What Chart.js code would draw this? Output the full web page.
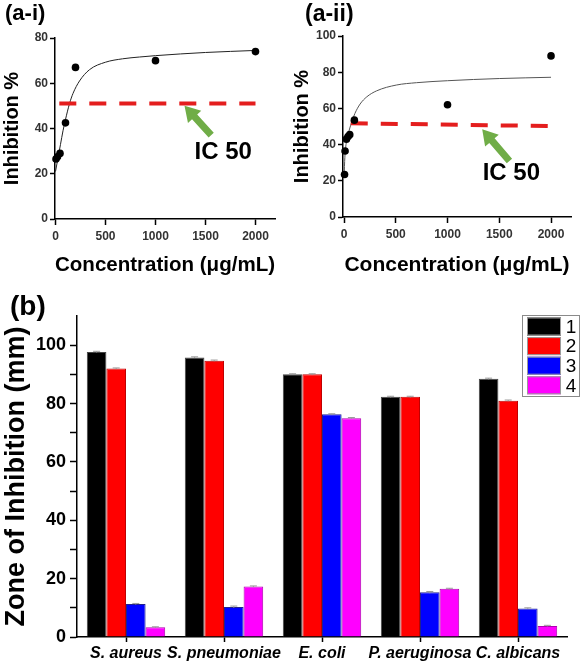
<!DOCTYPE html>
<html>
<head>
<meta charset="utf-8">
<script src="https://cdn.jsdelivr.net/npm/chart.js@4.4.0/dist/chart.umd.min.js"></script>
<style>
  html, body { margin: 0; padding: 0; background: #fff; }
  #wrap { position: relative; width: 580px; height: 665px; overflow: hidden; }
  canvas { position: absolute; }
  .tag { position: absolute; font-family: "Liberation Sans", Arial, sans-serif; font-weight: bold; line-height: 1; color: #000; }
</style>
</head>
<body>
<div id="wrap">
  <canvas id="c1" width="290" height="290" style="left:0;top:0"></canvas>
  <canvas id="c2" width="290" height="290" style="left:290px;top:0"></canvas>
  <canvas id="c3" width="580" height="375" style="left:0;top:290px"></canvas>
  <div class="tag" style="left:5px;top:2px;font-size:22px">(a-i)</div>
  <div class="tag" style="left:305px;top:2px;font-size:23px">(a-ii)</div>
  <div class="tag" style="left:10px;top:292px;font-size:28px">(b)</div>
</div>
<script>
const pts1X = [5, 20, 45, 100, 200, 1000, 2000]
const pts1Y = [26.5, 27.5, 29, 42.5, 67, 70, 74]
const fit1X = [0, 25, 50, 75, 100, 140, 175, 240, 340, 500, 670, 840, 1000, 1500, 2000]
const fit1Y = [21, 27, 33, 39, 44, 51, 55.5, 61, 66, 69.3, 70.8, 71.6, 72.2, 73.6, 74.5]
const ic1X = [38, 2000]
const ic1Y = [51, 51]

// (a-ii)
const pts2X = [5, 10, 23, 39, 55, 100, 1000, 2000]
const pts2Y = [23.5, 36.5, 43, 44.5, 45.5, 53.5, 62, 89]
const fit2X = [0, 8, 15, 30, 50, 75, 105, 155, 220, 315, 505, 700, 1000, 1500, 2000]
const fit2Y = [22, 33, 38, 44, 48, 52.6, 57.2, 62.4, 66.4, 69.7, 72.9, 74.2, 75.3, 76.5, 77.2]
const ic2X = [65, 2030]
const ic2Y = [51.8, 50.2]

const concTicks = [0, 500, 1000, 1500, 2000]
const inhTicks1 = [0, 20, 40, 60, 80]
const inhTicks2 = [0, 20, 40, 60, 80, 100]

// (b) zone of inhibition
const microbes = ['S. aureus', 'S. pneumoniae', 'E. coli', 'P. aeruginosa', 'C. albicans']
const seriesNames = ['1', '2', '3', '4']
const zone1 = [97.7, 95.8, 90.0, 82.3, 88.5]
const zone2 = [92.0, 94.7, 90.0, 82.3, 81.0]
const zone3 = [11.3, 10.3, 76.3, 15.3, 9.8]
const zone4 = [3.3, 17.3, 75.0, 16.5, 3.8]
const err1 = [0.2, 0.2, 0.2, 0.2, 0.2]
const err2 = [0.2, 0.2, 0.2, 0.2, 0.2]
const err3 = [0.2, 0.3, 0.2, 0.3, 0.2]
const err4 = [0.2, 0.2, 0.2, 0.2, 0.2]
const zoneTicks = [0, 10, 20, 30, 40, 50, 60, 70, 80, 90, 100]

const FONT = '"Liberation Sans", Arial, sans-serif'
const toXY = (xs, ys) => xs.map((x, i) => ({ x, y: ys[i] }))

// green arrow + "IC 50" label, placed in data units
const icArrow = {
  id: 'icArrow',
  afterDatasetsDraw(chart, args, o) {
    const { ctx, scales: { x, y } } = chart
    const sx = x.getPixelForValue(o.tail[0]), sy = y.getPixelForValue(o.tail[1])
    const tx = x.getPixelForValue(o.tip[0]), ty = y.getPixelForValue(o.tip[1])
    const len = Math.hypot(tx - sx, ty - sy)
    const hl = 15, hw = 9, sw = 3.5
    ctx.save()
    ctx.translate(sx, sy)
    ctx.rotate(Math.atan2(ty - sy, tx - sx))
    ctx.beginPath()
    ctx.moveTo(0, -sw); ctx.lineTo(len - hl, -sw); ctx.lineTo(len - hl, -hw)
    ctx.lineTo(len, 0); ctx.lineTo(len - hl, hw); ctx.lineTo(len - hl, sw); ctx.lineTo(0, sw)
    ctx.closePath()
    ctx.fillStyle = '#70ad47'
    ctx.fill()
    ctx.restore()
    ctx.save()
    ctx.font = 'bold 24px ' + FONT
    ctx.fillStyle = '#000'
    ctx.textAlign = 'center'
    ctx.textBaseline = 'middle'
    ctx.fillText('IC 50', x.getPixelForValue(o.text[0]), y.getPixelForValue(o.text[1]))
    ctx.restore()
  }
}

function makeIcChart(id, c) {
  return new Chart(document.getElementById(id), {
    type: 'scatter',
    data: {
      datasets: [
        { data: toXY(c.px, c.py), pointRadius: 3.8, pointBackgroundColor: '#000', pointBorderWidth: 0, showLine: false, clip: false },
        { data: toXY(c.icx, c.icy), showLine: true, pointRadius: 0, borderColor: '#e41e1e', borderWidth: 4, borderDash: [17, 13], clip: false },
        { data: toXY(c.fx, c.fy), showLine: true, pointRadius: 0, borderColor: c.fitColor, borderWidth: 1, cubicInterpolationMode: 'monotone', clip: false }
      ]
    },
    options: {
      responsive: false,
      animation: false,
      devicePixelRatio: 1,
      layout: { padding: { top: c.top, right: c.right, left: 0, bottom: 0 } },
      plugins: { legend: { display: false }, tooltip: { enabled: false }, icArrow: c.arrow },
      scales: {
        x: {
          type: 'linear', min: c.xMin, max: c.xMax,
          afterBuildTicks: s => { s.ticks = concTicks.map(v => ({ value: v })) },
          afterFit: s => { s.height = c.xHeight },
          border: { color: '#000', width: 1.5 },
          grid: { drawOnChartArea: false, tickLength: 6, tickColor: '#000', tickWidth: 1.5 },
          ticks: {
            color: '#333', font: { family: FONT, size: 12, weight: 'bold' }, padding: 4, autoSkip: false, maxRotation: 0,
            callback: v => String(v) // 不要千分位
          },
          title: { display: true, text: 'Concentration (μg/mL)', color: '#000', font: { family: FONT, size: 21, weight: 'bold' }, padding: { top: 0, bottom: 12 } }
        },
        y: {
          min: 0, max: c.yMax,
          afterBuildTicks: s => { s.ticks = c.yTicks.map(v => ({ value: v })) },
          afterFit: s => { s.width = c.yWidth },
          border: { color: '#000', width: 1.5 },
          grid: { drawOnChartArea: false, tickLength: 5, tickColor: '#000', tickWidth: 1.5 },
          ticks: { color: '#333', font: { family: FONT, size: 12, weight: 'bold' }, padding: 2 },
          title: { display: true, text: 'Inhibition %', color: '#000', font: { family: FONT, size: 20, weight: 'bold' }, padding: { top: 0, bottom: 0 } }
        }
      }
    },
    plugins: [icArrow]
  })
}

makeIcChart('c1', {
  px: pts1X, py: pts1Y, fx: fit1X, fy: fit1Y, icx: ic1X, icy: ic1Y,
  fitColor: '#222', xMin: -5, xMax: 2195, yMax: 80, yTicks: inhTicks1,
  top: 38, right: 15, yWidth: 55, xHeight: 71,
  arrow: { tip: [1290, 50], tail: [1557, 37.1], text: [1677, 29.6] }
})

makeIcChart('c2', {
  px: pts2X, py: pts2Y, fx: fit2X, fy: fit2Y, icx: ic2X, icy: ic2Y,
  fitColor: '#555', xMin: -10, xMax: 2193, yMax: 100, yTicks: inhTicks2,
  top: 36, right: 9, yWidth: 53, xHeight: 73,
  arrow: { tip: [1335, 48.5], tail: [1598, 30.9], text: [1617, 24.3] }
})

// tiny error caps on top of the bars
const errCaps = {
  id: 'errCaps',
  afterDatasetsDraw(chart) {
    const { ctx, scales: { y } } = chart
    ctx.save()
    ctx.strokeStyle = '#999'
    ctx.lineWidth = 1
    chart.data.datasets.forEach((ds, i) => {
      chart.getDatasetMeta(i).data.forEach((bar, j) => {
        const t = y.getPixelForValue(ds.data[j] + ds.errs[j])
        const b = y.getPixelForValue(ds.data[j] - ds.errs[j])
        ctx.beginPath()
        ctx.moveTo(bar.x, t); ctx.lineTo(bar.x, b)
        ctx.moveTo(bar.x - 3.5, t); ctx.lineTo(bar.x + 3.5, t)
        ctx.stroke()
      })
    })
    ctx.restore()
  }
}

// framed legend at the top right
const boxLegend = {
  id: 'boxLegend',
  afterDraw(chart, args, o) {
    const { ctx } = chart
    ctx.save()
    ctx.strokeStyle = '#8a8a8a'
    ctx.lineWidth = 1
    ctx.strokeRect(o.x + 0.5, o.y + 0.5, o.w, o.h)
    chart.data.datasets.forEach((ds, i) => {
      const yy = o.y + 2.5 + i * o.step
      ctx.fillStyle = ds.backgroundColor
      ctx.fillRect(o.x + 5, yy, 34, 18)
      ctx.strokeStyle = '#9a9a9a'
      ctx.strokeRect(o.x + 5.5, yy + 0.5, 33, 17)
      ctx.fillStyle = '#000'
      ctx.font = '19px ' + FONT
      ctx.textAlign = 'center'
      ctx.textBaseline = 'middle'
      ctx.fillText(ds.label, o.x + 49, yy + 10)
    })
    ctx.restore()
  }
}

const zones = [zone1, zone2, zone3, zone4]
const errs = [err1, err2, err3, err4]
const barColors = ['#000000', '#ff0000', '#0000ff', '#ff00ff']
const edgeColors = ['#444444', '#c00000', '#202090', '#b000b0']

new Chart(document.getElementById('c3'), {
  type: 'bar',
  data: {
    labels: microbes,
    datasets: zones.map((d, i) => ({
      label: seriesNames[i],
      data: d,
      errs: errs[i],
      backgroundColor: barColors[i],
      borderColor: edgeColors[i],
      borderWidth: 1,
      categoryPercentage: 0.8,
      barPercentage: 1
    }))
  },
  options: {
    responsive: false,
    animation: false,
    devicePixelRatio: 1,
    layout: { padding: { top: 26, right: 13, left: 0, bottom: 0 } },
    plugins: {
      legend: { display: false },
      tooltip: { enabled: false },
      boxLegend: { x: 522, y: 25, w: 57, h: 81, step: 19.6 }
    },
    scales: {
      x: {
        afterFit: s => { s.height = 28 },
        border: { color: '#000', width: 1.5 },
        grid: { offset: false, drawOnChartArea: false, tickLength: 5, tickColor: '#000', tickWidth: 1.5 },
        ticks: { color: '#000', font: { family: FONT, size: 16, weight: 'bold', style: 'italic' }, padding: 2, autoSkip: false, maxRotation: 0 }
      },
      y: {
        min: 0, max: 110,
        afterBuildTicks: s => { s.ticks = zoneTicks.map(v => ({ value: v })) },
        afterFit: s => { s.width = 77 },
        border: { color: '#000', width: 1.5 },
        grid: { drawOnChartArea: false, tickLength: 7, tickColor: '#000', tickWidth: 1.5 },
        ticks: {
          color: '#000', font: { family: FONT, size: 18, weight: 'bold' }, padding: 4,
          callback: v => (v % 20 === 0 ? v : '')
        },
        title: { display: true, text: 'Zone of Inhibition (mm)', color: '#000', font: { family: FONT, size: 27, weight: 'bold' }, padding: { top: 0, bottom: 0 } }
      }
    }
  },
  plugins: [errCaps, boxLegend]
})
</script>
</body>
</html>
